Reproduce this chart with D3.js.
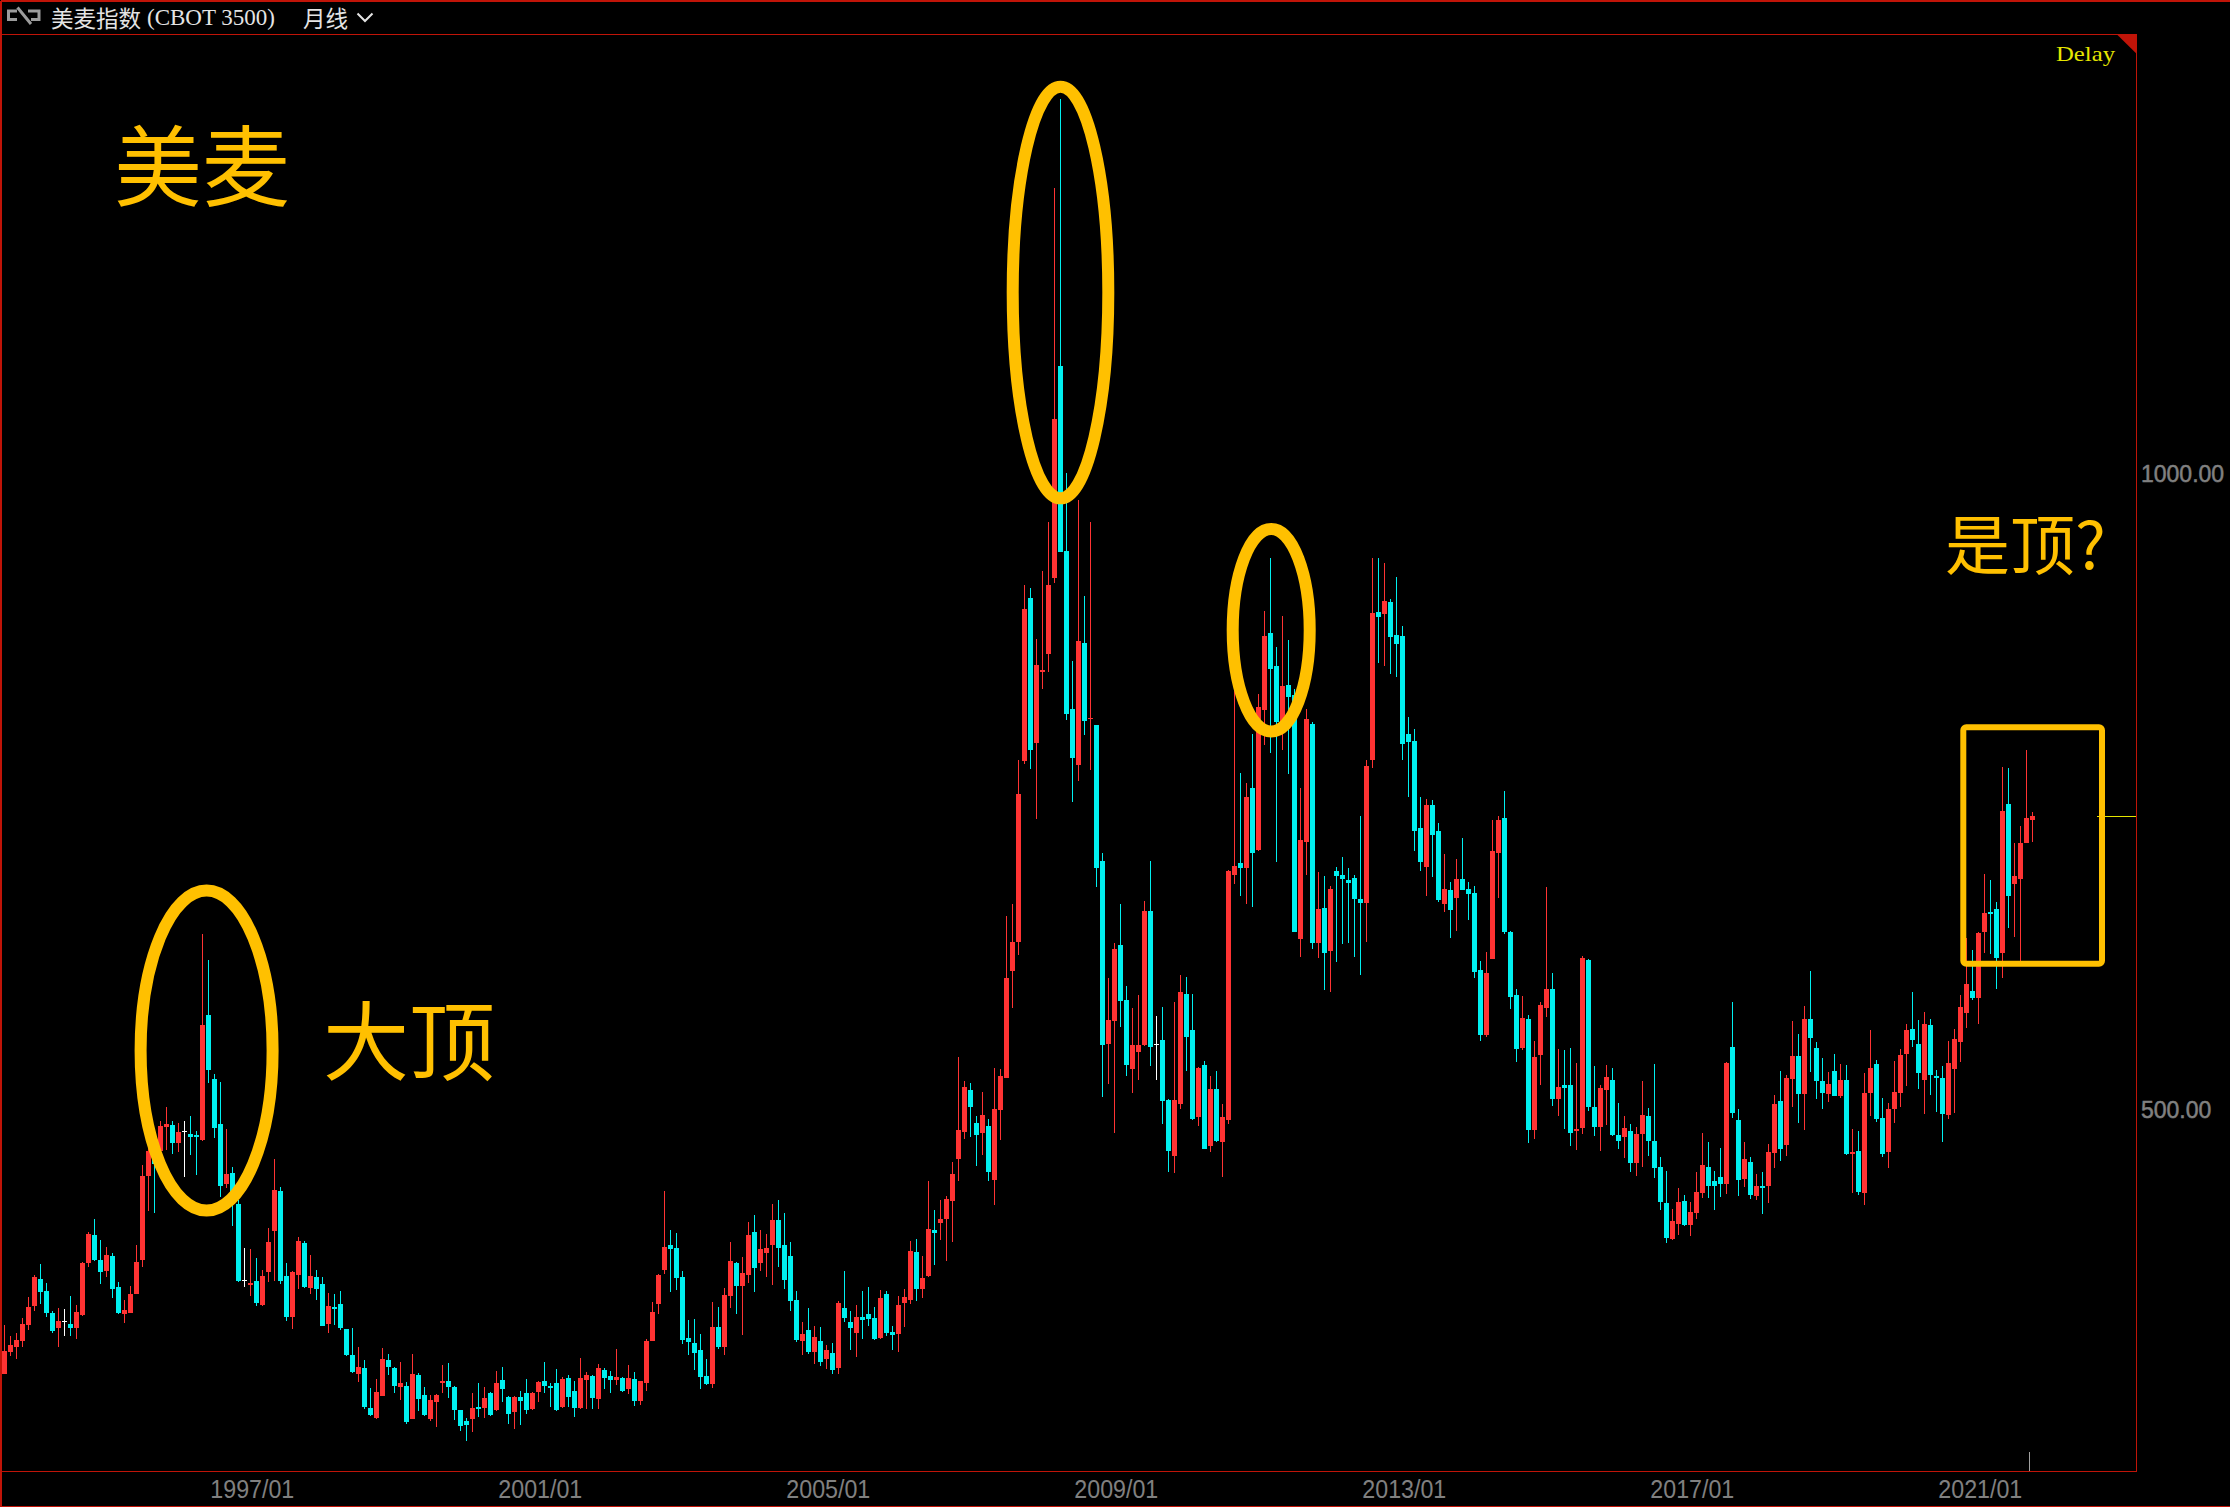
<!DOCTYPE html>
<html>
<head>
<meta charset="utf-8">
<style>
html,body{margin:0;padding:0;background:#000;}
svg{display:block;}
</style>
<script src="https://cdnjs.cloudflare.com/ajax/libs/d3/7.8.5/d3.min.js"></script>
</head>
<body>
<svg id="chart" width="2230" height="1507"></svg>
<script>
const firstMonth = [1993, 7];
const priceTicks = [500, 1000];
const timeTicks = ['1997/01', '2001/01', '2005/01', '2009/01', '2013/01', '2017/01', '2021/01'];
const lastPrice = 730.9;

const opens = [
292.6,309.9,313.9,318.6,331.2,346.1,367.3,357.9,340.6,328.8,
333.8,331.9,328.8,339,379.9,401.9,382.2,373.6,385.4,361,
339.8,340.6,355.5,382.2,448.3,467.4,467.9,486.8,488.4,474.2,
483.4,481.3,480.5,476.6,574.8,524.5,489.1,442,450.6,426.3,
366,362.6,365.7,346.9,372.8,405,436.5,369.7,337.4,370.5,
395.6,360.2,368.9,363.4,331.9,345.3,347.7,328,307.6,292.6,
297.4,265.9,258.1,275.3,303.6,297.4,282.4,283.2,257.3,291.9,
276.1,257.3,270.6,285.6,287.1,282.4,264.3,255.7,257.3,266.7,
265.9,277.7,264.3,287.9,274.6,262.8,274.6,277.7,265.1,278.5,
287.1,283.2,285.6,266.7,289.5,279.3,265.9,287.9,291.1,273,
295.8,291.1,287.9,289.5,280.8,288.7,271.4,285.6,318.6,347.7,
374.4,394,391.7,368.9,320.9,317,311.5,291.1,284.8,329.6,
313.9,353.9,379.9,361.8,370.5,404.2,379.9,387.7,394,413.7,
394,385.4,350.8,318.6,327.2,309.9,318.6,304.4,309.1,297.4,
344.5,333.5,324.9,337.4,339.8,336.7,320.9,355.5,325.6,324.1,
348.4,350.8,388.5,359.4,369.7,405.8,411.3,414.5,428.6,461.6,
482.8,515.9,489.9,482,487.6,445.1,500.1,525.1,609.2,632,
774.6,902.7,788.6,844.6,858.7,918.3,1084.9,939.5,815.3,771.3,
867.3,807.2,802.7,695.9,552.2,569.9,629.8,586.5,532.3,545.7,
551.1,656.5,551.5,555.1,507.8,463.7,504.9,591.2,563,494.4,
535.6,471.7,516.4,474.9,492.2,684.7,694.1,690.4,753.2,704.5,
814.6,874.9,848.9,802.7,834.1,826.2,634.5,710.7,803.4,631.2,
658.7,625.1,687.9,684.7,681.1,682.5,665.9,662.6,775.3,891.5,
890.1,899.5,873.5,872.5,795.6,790.2,721.6,690.9,739.6,719.4,
662,672.8,666.7,681.5,673.6,670.7,610,558.8,618.7,702.1,
729.5,640,590.5,548.9,571.7,484.4,543.4,580.3,595.2,508.8,
519.8,519.8,483.6,486,618,502.5,486.8,515.9,523.7,480.5,
478.9,483.6,458.5,481.3,495.4,475.8,455.3,427,398.7,410.5,
428.6,409.8,419.2,434.9,455.3,444.3,447.5,442,549.7,492.3,
445.9,459.3,432.5,440.4,440.4,466.3,507.2,472.6,524.5,542.6,
512.7,571.7,548.9,523,512.7,530.8,511.1,523.7,465.6,467.9,
434.9,513.5,536.3,493.9,467.1,500.9,513.6,544.2,563.9,552.1,
523.7,567,526.8,525.4,496.2,532.4,553.5,576.5,593.6,588.3,
639.9,655.7,658.2,623.7,740.7,677.8,681.8,710.1,728.1];

const closes = [
310.7,315.4,319.4,331.9,345.3,368.9,357.1,340.6,326.4,334.3,
333.8,328.8,341.4,379.9,402.7,382,372.8,386.2,359.4,340.6,
342.9,355.5,380.7,448.3,467.9,457.7,487.6,489.1,474.2,482.8,
483.4,478.9,478.9,566.9,531.6,486,440.4,449.8,426.3,365.7,
366,364.2,348.4,369.7,396.4,437.3,365.7,337.4,372.8,397.2,
361,369.7,359.4,330.4,346.1,343.7,328.8,307.6,294.2,298.1,
266.7,260.4,278.5,304.4,298.1,283.2,285.6,254.9,292.6,273,
260.4,272.2,276.1,287.1,282.4,264.3,251.8,252.6,265.9,265.1,
273.8,260.4,285.6,280.8,261.2,274.6,271.4,264.3,277.7,286.3,
283.2,281.6,264.3,288.7,274.6,265.9,289.5,291.9,273.8,297.4,
289.5,287.9,290.3,279.3,289.5,271.4,287.1,318.6,341.4,370.5,
392.5,390.9,368.1,319.4,317.8,309.1,290.3,284.8,329.6,313.9,
354.7,381.5,361.8,372,401.9,376,390.9,391.7,413.7,391.7,
366.5,350,319.4,324.1,309.9,321.7,302.1,311.5,295.8,348.4,
336.7,328.8,337.4,335.1,335.9,320.2,352.4,324.9,323.3,346.9,
353.2,389.3,359.4,368.1,406.6,403.5,414.5,430.2,449.8,484.4,
518.2,502.5,480.5,496.2,451.4,500.9,526.9,603.8,632,748.6,
894,783.2,850,846,912.8,1043.2,938.7,811.4,776.7,868.8,
806,808.5,690.4,551.1,570.9,626.5,585.7,535.6,551.1,551.1,
656.5,549.6,551.5,507.1,467.7,507.8,593,557.6,492.6,533,
469.5,516.4,475.6,494.4,687.9,691.9,690.4,746,702,816.8,
872.7,846.8,805.2,833.4,824.7,639.9,712.5,807.4,631.2,658,
623.3,673.8,683.9,681.8,678.5,665.9,662.6,770.6,890.8,887.5,
900.2,872,866.2,787.6,789.4,719.4,694.9,739.6,716.2,664.9,
673.6,657.3,681.5,672.8,669.9,608.6,558.8,607.5,703.5,728.1,
640,589,548.1,572.5,484.4,541.8,582.7,595.2,508.8,518.2,
517.4,482.1,485.2,619.6,502.5,486.8,517.4,526.1,480.5,475.8,
486,458.5,481.3,496.2,475.8,454.6,427.8,399.5,412.9,427.8,
409.8,420,435.7,456.9,440.4,440.4,442,537.1,497.8,445.1,
461.6,433.3,440.4,438.8,467.1,504.9,469.5,525.3,542.6,512.7,
571.7,556.7,523,513.5,520.6,511.1,523.7,465.6,467.1,435.7,
513.5,533.2,493.1,465.6,500.9,514.3,543.4,563,555.2,529.3,
567.8,527.7,525.4,497,537.2,556,581,599.2,588.3,639.4,
655.1,654.3,619.7,735.1,668.3,684,710.1,729.8,731.2];

const highs = [
331.1,322.5,324.6,336.4,352.9,369.9,378.8,363.9,342.2,344.5,
343.7,353.9,346.9,380.7,404.2,414.5,398,392.5,387.5,364.7,
350.8,361.8,394,456.9,473.9,473.9,491.5,502.5,491.5,489.9,
491.5,495.4,483.6,638,618,528.4,522.1,485.2,455.3,429.4,
391.7,390.9,383.8,374.4,407.4,461.6,439.6,379.9,373.6,400.3,
397.2,386.2,374.4,368.9,356.3,355.5,357.9,328,328.8,313.9,
303.6,281.6,288.7,313.1,308.4,298.1,302.1,285.8,308.4,293.2,
282.4,276.1,276.9,299.7,301.3,283.2,264.3,258.1,277.7,285.6,
282.4,278.5,295,298.1,275.3,275.3,279.3,288.7,278.5,287.1,
302.1,285.6,296.6,290.3,291.9,287.1,305.2,294.2,291.9,300.5,
297.4,295,312.3,290.3,299.7,294.2,287.1,320.2,349.2,371.2,
436.5,405.8,403.5,373.6,335.1,335.9,324.1,304.4,349.2,345.3,
360.2,396.4,380.7,384.6,412.1,417.6,405.8,402.7,426.3,429.4,
419.2,396.4,357.9,333.5,344.5,330.4,329.6,315.4,317,350,
373.6,342.2,346.9,357.9,361,345.3,358.7,357.9,330.4,353.9,
359.4,397.2,398.7,385.4,444.3,421.5,429.4,432.5,459.3,541.8,
522.9,521.4,495.4,514.3,493.1,533.2,532.4,652.9,661.9,774.9,
912.8,910.3,870.2,923.6,962.3,1224.8,1294.8,1000.8,852.9,979.6,
904.2,962.3,802.7,702.4,603.8,630.9,661.9,597.3,580.3,590.4,
664.4,695.9,573.8,581,508.9,585,606.3,604.5,591.2,533.8,
538.5,526.9,530.5,504.9,689,835.2,764.8,757.2,795.5,827.3,
892.2,934.1,864.1,888.3,869.5,830.9,753.2,815.3,805.2,687.2,
683.9,676,691.2,699.1,690.4,684.7,731.2,775.3,934.1,934.1,
930.1,901.6,918.9,880.4,808.6,799.5,746.1,744.3,743.6,725.5,
701.4,679.3,697.4,713.6,679.3,676,617.2,624.1,728.1,731,
750.8,640.8,595.2,589.7,574.8,554.4,585,675.7,607.8,548.1,
547.3,548.9,537.1,621.2,618.8,534.7,519.8,535.5,533.2,505.6,
495.4,489.1,486.8,522.9,501.7,536.3,463.2,452.2,422.3,438.8,
433.3,427.8,451.4,482.1,475,452.2,470.3,537.9,585,500.9,
475,463.2,449.8,451.4,473.4,511.9,530.8,527.7,570.1,559.9,
581.9,609.4,553.6,541,530,544.2,536.3,535.5,485.2,483.6,
529.2,563,539.4,509.6,505.6,538.7,548.2,567.8,592.8,570.9,
577.1,571.7,531.6,534.7,554.3,563.9,590.5,635.5,625.9,639.9,
685.7,680.9,663.5,769.6,769.1,710.1,723.3,783.1,734.3];

const lows = [
292.6,306.8,304.4,313.3,327.2,342.2,347.7,337.4,324.9,313.9,
322.5,322.5,320.2,338.2,376.7,381.5,363.4,368.9,352.4,339.8,
332.7,340.6,355.5,376.7,420.8,419.2,460.3,468.7,465.6,467.1,
447.5,464.8,449.1,475.8,521.4,478.1,431.8,438.8,409,365,
361,353.9,346.1,346.1,365,365.7,363.4,334.3,328,359.4,
360.2,355.5,350.8,330.4,324.9,331.2,327.2,306.8,293.4,286.3,
265.1,259.6,257.3,275.3,291.9,277.7,272.2,253.3,257.3,263.6,
259.6,255.7,251,277.7,273.8,256.5,247.8,240,247.1,258.8,
258.1,259.1,263.6,270.6,253.3,249.4,252.6,261.2,264.3,270.6,
277.7,266.7,263.6,265.9,266.7,258.8,265.1,265.1,265.1,265.1,
280.8,277.7,284,278.5,276.9,267.5,268.3,279.3,318.6,339.8,
371.2,357.1,358.7,316.2,307.6,295.8,280.8,284,281.6,312.3,
307.6,344.5,339.8,323.3,364.2,357.1,373.6,368.9,362.6,376.7,
359.4,342.2,317.8,307.6,308.4,300.5,298.9,296.6,292.6,292.6,
333.5,311.5,306,320.2,330.4,319.4,320.2,322.5,311.5,309.9,
329.6,347.7,350,352.4,368.9,378.3,398,381.5,396.4,444.3,
477.3,478.9,456.1,464.8,444.3,425.5,476.6,525.1,580,621.8,
772,768,728.7,830.9,844.2,914.3,938.7,806.7,742.1,758.7,
794.8,767.3,675.3,510.3,520.4,481.8,565.2,526.9,513.6,523.7,
550,534.5,523.7,489,451.5,450.4,500.9,530.5,492.2,487.6,
469.5,467,474.9,447.5,489,677.8,668.4,661.9,659.8,703.8,
787.2,780.7,695.1,783.2,764.1,639.9,620.4,684.7,626.5,619.7,
594.4,593,616.4,630.6,631.2,620.4,606.3,632,768.8,851.4,
848.9,842.8,840.6,775,746.1,703.5,688,668.1,683.3,663.4,
655.5,635.3,640.7,672.8,649.4,603.9,554.1,557.3,618.7,666.7,
638.2,579.5,537.9,547.3,474.2,477.3,519.8,573.2,503.3,495.4,
485.2,471.8,468.7,481.3,499.4,479.7,467.9,488.4,479.7,469.5,
462.4,451.4,448.3,455.3,464,446.7,421.5,395.6,398,401.9,
409,401,414.5,431,431,421.5,431.8,434.1,493.9,432.5,
439.6,430.2,429.4,418.4,427,454.6,460,464,502.5,489.9,
484.4,530,508.8,500.9,506.4,511.1,509.6,464.8,434.9,433.3,
425.5,495.4,490.7,463.2,454.6,489.9,502.4,519,549.6,516.7,
497,512,498.5,474.9,493.1,497.6,537.8,564.7,586.6,567.8,
623.7,622.8,595.3,604,643.3,636,616,710.1,710.7];

const FRAME = '#C01408', UP = '#FF3333', DOWN = '#00F0F0', FLAT = '#FFFFFF', MARK = '#FFC000', GREY = '#808080';
const sans = '"Liberation Sans", Arial, sans-serif';
const cjk = '"Noto Sans CJK SC", sans-serif';
const serif = '"Liberation Serif", serif';

const fmt = d3.utcFormat('%Y/%m');
const months = opens.map((_, i) => fmt(new Date(Date.UTC(firstMonth[0], firstMonth[1] + i, 1))));
const candles = months.map((m, i) => ({m, o: opens[i], h: highs[i], l: lows[i], c: closes[i]}));

const svg = d3.select('#chart');
svg.append('rect').attr('width', 2230).attr('height', 1507).attr('fill', '#000');

const x = d3.scalePoint().domain(months).range([4.5, 2032.5]);
const y = d3.scaleLinear().domain([500, 1000]).range([1110, 474]);
const bodyW = 5;
const colour = d => d.c > d.o ? UP : d.c < d.o ? DOWN : FLAT;

const plot = svg.append('g').attr('shape-rendering', 'crispEdges');
const bars = plot.selectAll('g').data(candles).join('g');
bars.append('line')
  .attr('x1', d => x(d.m)).attr('x2', d => x(d.m))
  .attr('y1', d => Math.round(y(d.h))).attr('y2', d => Math.round(y(d.l)))
  .attr('stroke', colour).attr('stroke-width', 1);
bars.append('rect')
  .attr('x', d => x(d.m) - bodyW / 2)
  .attr('width', bodyW)
  .attr('y', d => Math.round(y(Math.max(d.o, d.c))))
  .attr('height', d => Math.max(1, Math.round(y(Math.min(d.o, d.c))) - Math.round(y(Math.max(d.o, d.c)))))
  .attr('fill', colour);

// frame
const frame = svg.append('g').attr('shape-rendering', 'crispEdges').attr('stroke', FRAME).attr('stroke-width', 1.5).attr('fill', 'none');
frame.append('path').attr('d', 'M0.75,0.75H2230 M0.75,0.75V1507 M1,34.5H2136.5V1471.5H1 M0,1506.25H2230');
svg.append('path').attr('d', 'M2116.5,34 L2136.8,34 L2136.8,54 Z').attr('fill', FRAME);

// axes
const yAxis = d3.axisRight(y).tickValues(priceTicks).tickSize(0).tickPadding(5).tickFormat(d3.format('.2f'));
const gy = svg.append('g').attr('transform', 'translate(2136,0)').call(yAxis);
gy.select('.domain').remove();
gy.selectAll('text').attr('fill', GREY).attr('stroke', GREY).attr('stroke-width', 0.5).attr('font-family', sans).attr('font-size', 23).attr('dy', '0.33em');

const xAxis = d3.axisBottom(x).tickValues(timeTicks).tickSize(0);
const gx = svg.append('g').attr('transform', 'translate(1.3,1472)').call(xAxis);
gx.select('.domain').remove();
gx.selectAll('text').attr('fill', GREY).attr('font-family', sans).attr('font-size', 25).attr('y', 26).attr('dy', 0)
  .attr('textLength', 84).attr('lengthAdjust', 'spacingAndGlyphs');

// last price marker and current-bar marker
svg.append('line').attr('x1', 2097).attr('x2', 2136).attr('y1', Math.round(y(lastPrice)) + 0.5).attr('y2', Math.round(y(lastPrice)) + 0.5)
  .attr('stroke', '#E6E600').attr('stroke-width', 1).attr('shape-rendering', 'crispEdges');
svg.append('line').attr('x1', 2029.5).attr('x2', 2029.5).attr('y1', 1452).attr('y2', 1471)
  .attr('stroke', '#A0A0A0').attr('stroke-width', 1).attr('shape-rendering', 'crispEdges');

// title bar
const icon = svg.append('g').attr('fill', 'none').attr('stroke', '#9C9C9C').attr('stroke-width', 3);
icon.append('path').attr('d', 'M17,11H8.5V19.5H17 M28,11H39V19.5H31 M17.5,7.5L31,24');
svg.append('text').attr('x', 51).attr('y', 26.5).attr('fill', '#E4E4E4').attr('font-family', cjk).attr('font-size', 22.5).text('美麦指数');
svg.append('text').attr('x', 147).attr('y', 25).attr('fill', '#E4E4E4').attr('font-family', serif).attr('font-size', 23)
  .attr('textLength', 128).attr('lengthAdjust', 'spacingAndGlyphs').text('(CBOT 3500)');
svg.append('text').attr('x', 303).attr('y', 26.5).attr('fill', '#E4E4E4').attr('font-family', cjk).attr('font-size', 22.5).text('月线');
svg.append('path').attr('d', 'M357.5,13.5L365,21L372.5,13.5').attr('fill', 'none').attr('stroke', '#E4E4E4').attr('stroke-width', 2);

svg.append('text').attr('x', 2056).attr('y', 61).attr('fill', '#E6E600').attr('font-family', serif).attr('font-size', 21)
  .attr('textLength', 59).attr('lengthAdjust', 'spacingAndGlyphs').text('Delay');

// annotations
const marks = svg.append('g').attr('fill', 'none').attr('stroke', MARK).attr('stroke-width', 12);
marks.append('ellipse').attr('cx', 206.6).attr('cy', 1050.6).attr('rx', 66).attr('ry', 160);
marks.append('ellipse').attr('cx', 1060.5).attr('cy', 292.5).attr('rx', 47.8).attr('ry', 205.8);
marks.append('ellipse').attr('cx', 1271.2).attr('cy', 630.2).attr('rx', 38.5).attr('ry', 101.2);
svg.append('rect').attr('x', 1963.3).attr('y', 727.3).attr('width', 138.7).attr('height', 236.5).attr('rx', 3)
  .attr('fill', 'none').attr('stroke', MARK).attr('stroke-width', 6);

const note = (t, px, py, size) => svg.append('text').attr('x', px).attr('y', py).attr('fill', MARK)
  .attr('font-family', cjk).attr('font-size', size).text(t);
note('美麦', 114, 199, 88);
note('大顶', 323, 1074, 86);
note('是顶?', 1945, 569, 65);
</script>
</body>
</html>
